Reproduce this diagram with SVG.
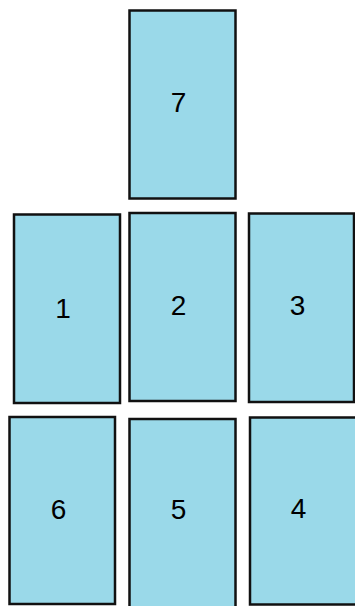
<svg xmlns="http://www.w3.org/2000/svg" width="355" height="606" viewBox="0 0 355 606">
<style>
.b{fill:#9AD9E9;stroke:#111;stroke-width:2.5}
.t{font-family:"Liberation Sans",Arial,sans-serif;font-size:28px;fill:#000;text-anchor:middle}
</style>
<rect width="355" height="606" fill="#fff"/>
<g id="n7"><rect class="b" x="129.5" y="10.5" width="106" height="188"/><text class="t" x="178.5" y="112">7</text></g>
<g id="n1"><rect class="b" x="14" y="214.5" width="106" height="188.5"/><text class="t" x="63" y="318">1</text></g>
<g id="n2"><rect class="b" x="129.5" y="213" width="106" height="188"/><text class="t" x="178.5" y="315">2</text></g>
<g id="n3"><rect class="b" x="249" y="213.5" width="105" height="188.5"/><text class="t" x="297.5" y="315">3</text></g>
<g id="n6"><rect class="b" x="9.5" y="417" width="105.5" height="187"/><text class="t" x="58.5" y="519">6</text></g>
<g id="n5"><rect class="b" x="129.5" y="419" width="106" height="190"/><text class="t" x="178.5" y="519">5</text></g>
<g id="n4"><rect class="b" x="250" y="417.5" width="108" height="187"/><text class="t" x="298.5" y="518">4</text></g>
<g id="connectors"/>
</svg>
